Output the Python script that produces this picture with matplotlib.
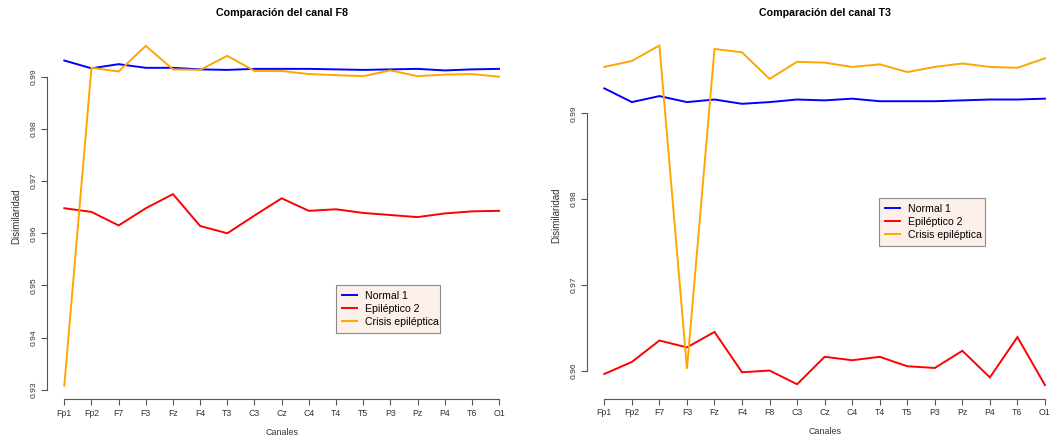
import matplotlib
matplotlib.use("Agg")
import matplotlib.pyplot as plt

plt.rcParams['font.family'] = ['Liberation Sans', 'DejaVu Sans']

# ---------------- data ----------------
channels_f8 = ["Fp1", "Fp2", "F7", "F3", "Fz", "F4", "T3", "C3", "Cz", "C4",
               "T4", "T5", "P3", "Pz", "P4", "T6", "O1"]
normal_f8 = [0.9931, 0.9916, 0.9924, 0.9917, 0.9917, 0.9914, 0.9913, 0.9915, 0.9915,
             0.9915, 0.9914, 0.9913, 0.9914, 0.9915, 0.9912, 0.9914, 0.9915]
epil_f8 = [0.9648, 0.9641, 0.9615, 0.9648, 0.9675, 0.9614, 0.9600, 0.9634, 0.9667,
           0.9643, 0.9646, 0.9639, 0.9635, 0.9631, 0.9638, 0.9642, 0.9643]
crisis_f8 = [0.9308, 0.9917, 0.9910, 0.9959, 0.9914, 0.9913, 0.9940, 0.9911, 0.9911,
             0.9905, 0.9903, 0.9901, 0.9912, 0.9901, 0.9904, 0.9905, 0.9900]
yticks_f8 = [0.93, 0.94, 0.95, 0.96, 0.97, 0.98, 0.99]

channels_t3 = ["Fp1", "Fp2", "F7", "F3", "Fz", "F4", "F8", "C3", "Cz", "C4",
               "T4", "T5", "P3", "Pz", "P4", "T6", "O1"]
normal_t3 = [0.9929, 0.9913, 0.9920, 0.9913, 0.9916, 0.9911, 0.9913, 0.9916, 0.9915,
             0.9917, 0.9914, 0.9914, 0.9914, 0.9915, 0.9916, 0.9916, 0.9917]
epil_t3 = [0.9596, 0.9610, 0.9635, 0.9627, 0.9645, 0.9598, 0.9600, 0.9584, 0.9616,
           0.9612, 0.9616, 0.9605, 0.9603, 0.9623, 0.9592, 0.9639, 0.9583]
crisis_t3 = [0.9954, 0.9961, 0.9979, 0.9602, 0.9975, 0.9971, 0.9940, 0.9960, 0.9959,
             0.9954, 0.9957, 0.9948, 0.9954, 0.9958, 0.9954, 0.9953, 0.9964]
yticks_t3 = [0.96, 0.97, 0.98, 0.99]

series_labels = ["Normal 1", "Epiléptico 2", "Crisis epiléptica"]
series_colors = ["#0000FF", "#FF0000", "#FFA500"]

W, H = 1052, 444
fig = plt.figure(figsize=(W / 100, H / 100), dpi=100)

axis_color = "#555555"


def make_panel(rect_px, title, channels, series, yticks, legend_rect):
    x0, y0, x1, y1 = rect_px  # left, top, right, bottom in pixels
    ax = fig.add_axes([x0 / W, 1 - y1 / H, (x1 - x0) / W, (y1 - y0) / H])
    xs = list(range(len(channels)))
    for vals, lab, col in zip(series, series_labels, series_colors):
        ax.plot(xs, vals, color=col, lw=1.4, label=lab, solid_joinstyle='miter')
    ax.margins(x=0.04, y=0.04)
    for s in ("top", "right"):
        ax.spines[s].set_visible(False)
    for s in ("left", "bottom"):
        ax.spines[s].set_color(axis_color)
        ax.spines[s].set_linewidth(0.8)
    ax.spines["left"].set_bounds(yticks[0], yticks[-1])
    ax.spines["bottom"].set_bounds(xs[0], xs[-1])
    ax.set_xticks(xs)
    ax.set_xticklabels(channels)
    ax.set_yticks(yticks)
    ax.set_yticklabels([f"{v:.2f}" for v in yticks], rotation=90, va="center")
    ax.tick_params(axis="both", colors=axis_color, length=4, width=0.8, labelcolor="#333333")
    ax.tick_params(axis="x", labelsize=6.3, pad=3.0)
    ax.tick_params(axis="y", labelsize=6.1, pad=2.6)
    wpx = x1 - x0
    hpx = y1 - y0
    ax.set_ylabel("Disimilaridad", fontsize=7.0, color="#333333")
    ax.yaxis.set_label_coords(-25.5 / wpx, 0.5)
    ax.set_xlabel("Canales", fontsize=6.4, color="#333333")
    ax.xaxis.set_label_coords(0.5, -28.5 / hpx)
    ax.set_title(title, fontsize=7.7, fontweight="bold", pad=11.5)
    lx0, ly0, lx1, ly1 = legend_rect
    bx = (lx0 - x0) / wpx
    by = (y1 - ly1) / hpx
    bw = (lx1 - lx0) / wpx
    bh = (ly1 - ly0) / hpx
    leg = ax.legend(loc="upper left", bbox_to_anchor=(bx, by, bw, bh), mode="expand",
                    borderaxespad=0, fontsize=7.6, frameon=True, fancybox=False,
                    facecolor="#FDF0EA", edgecolor="#8a8a8a", framealpha=1,
                    handlelength=1.45, handletextpad=0.75, borderpad=0.55,
                    labelspacing=0.28)
    leg.get_frame().set_linewidth(0.8)
    return ax


make_panel((46.9, 32.3, 516.4, 399.3), "Comparación del canal F8", channels_f8,
           [normal_f8, epil_f8, crisis_f8], yticks_f8, (336, 285, 440, 337.3))
make_panel((586.7, 31.9, 1062.6, 398.7), "Comparación del canal T3", channels_t3,
           [normal_t3, epil_t3, crisis_t3], yticks_t3, (879.3, 198.3, 985, 250))

fig.savefig("out.png", dpi=100)
